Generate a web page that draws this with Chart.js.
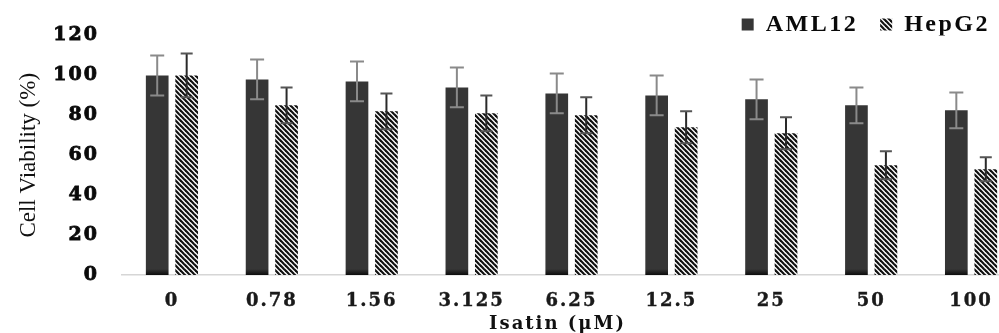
<!DOCTYPE html>
<html><head><meta charset="utf-8">
<style>html,body{margin:0;padding:0;overflow:hidden;background:#fff;} #wrap{width:1021px;height:333px;}</style>
<script src="https://cdn.jsdelivr.net/npm/chart.js@4.4.1/dist/chart.umd.min.js"></script>
</head><body><div id="wrap"><canvas id="c" width="1021" height="333"></canvas></div>
<script>
const categories = ['0', '0.78', '1.56', '3.125', '6.25', '12.5', '25', '50', '100'];
const seriesNames = ['AML12', 'HepG2'];
const aml12Values = [100, 98, 97, 94, 91, 90, 88, 85, 82.5];
const aml12Errors = [10, 10, 10, 10, 10, 10, 10, 9, 9];
const hepg2Values = [100, 85, 82, 81, 80, 74, 71, 55, 53];
const hepg2Errors = [11, 9, 9, 9, 9, 8, 8, 7, 6];
const yTicks = [0, 20, 40, 60, 80, 100, 120];
const xTitle = 'Isatin (μM)';
const yTitle = 'Cell Viability (%)';

const canvas = document.getElementById('c');
const ctx0 = canvas.getContext('2d');

function makeHatch() {
  const s = 5;
  const c = document.createElement('canvas');
  c.width = s; c.height = s;
  const g = c.getContext('2d');
  g.fillStyle = '#fff'; g.fillRect(0, 0, s, s);
  g.strokeStyle = '#111'; g.lineWidth = 2.2;
  for (let k = -1; k <= 1; k++) {
    g.beginPath(); g.moveTo(k * s - 1, -1); g.lineTo(k * s + s + 1, s + 1); g.stroke();
  }
  return ctx0.createPattern(c, 'repeat');
}
const hatch = makeHatch();

function amlFill(context) {
  const ca = context.chart.chartArea;
  if (!ca) return '#363636';
  const g = context.chart.ctx.createLinearGradient(0, ca.bottom - 6, 0, ca.bottom);
  g.addColorStop(0, '#363636');
  g.addColorStop(1, '#0c0c0c');
  return g;
}

const errorSets = [
  {errors: aml12Errors, stem: '#8a8a8a', cap: '#8a8a8a', half: 7},
  {errors: hepg2Errors, stem: '#2a2a2a', cap: '#555555', half: 6}
];

function withSpacing(obj, name, spacing, extra) {
  const o = obj[name].bind(obj);
  obj[name] = function (...args) {
    const c = obj.ctx;
    c.save();
    c.letterSpacing = spacing;
    if (extra) extra(c);
    const r = o(...args);
    c.restore();
    return r;
  };
}

const tweak = {
  id: 'tweak',
  beforeLayout(chart) {
    chart.ctx.letterSpacing = '2px';
    const lg = chart.legend;
    if (lg && !lg._wrapped) {
      lg._wrapped = true;
      withSpacing(lg, 'fit', '2.5px');
      withSpacing(lg, 'draw', '2.5px');
    }
  },
  afterLayout(chart) {
    const lg = chart.legend;
    if (lg) { lg.top = -9.5; lg.right = 1012; }
    const ys = chart.scales.y, xs = chart.scales.x;
    if (!ys._wrapped) {
      ys._wrapped = true;
      withSpacing(ys, 'drawTitle', '0px');
    }
    if (!xs._wrapped) {
      xs._wrapped = true;
      withSpacing(xs, 'drawTitle', '2px', c => c.translate(-14, 0));
    }
  },
  beforeDraw(chart) { chart.ctx.letterSpacing = '2px'; },
  afterDatasetsDraw(chart) {
    const c = chart.ctx, y = chart.scales.y;
    c.save();
    chart.data.datasets.forEach((ds, i) => {
      const meta = chart.getDatasetMeta(i);
      const es = errorSets[i];
      meta.data.forEach((el, j) => {
        const v = ds.data[j], e = es.errors[j];
        const yt = y.getPixelForValue(v + e), yb = y.getPixelForValue(v - e);
        const x = el.x;
        c.lineWidth = 2;
        c.strokeStyle = es.stem;
        c.beginPath(); c.moveTo(x, yt); c.lineTo(x, yb); c.stroke();
        c.strokeStyle = es.cap;
        c.beginPath();
        c.moveTo(x - es.half, yt); c.lineTo(x + es.half, yt);
        c.moveTo(x - es.half, yb); c.lineTo(x + es.half, yb);
        c.stroke();
      });
    });
    c.restore();
  }
};

new Chart(canvas, {
  type: 'bar',
  data: {
    labels: categories,
    datasets: [
      {label: seriesNames[0], data: aml12Values, backgroundColor: amlFill, borderWidth: 0,
       categoryPercentage: 0.59, barPercentage: 0.77},
      {label: seriesNames[1], data: hepg2Values, backgroundColor: hatch, borderWidth: 0,
       categoryPercentage: 0.59, barPercentage: 0.77}
    ]
  },
  options: {
    responsive: false,
    animation: false,
    devicePixelRatio: 1,
    layout: {padding: 0},
    plugins: {
      legend: {
        display: true,
        position: 'top',
        align: 'end',
        maxHeight: 35.5,
        labels: {
          boxWidth: 12, boxHeight: 12, padding: 22, color: '#0a0a0a',
          font: {family: 'Liberation Serif', size: 24, weight: 'bold'}
        }
      },
      tooltip: {enabled: false}
    },
    scales: {
      x: {
        offset: true,
        grid: {display: false, drawTicks: false},
        border: {display: true, color: '#d6d6d6', width: 1.5},
        ticks: {color: '#1a1a1a', padding: 16, maxRotation: 0, autoSkip: false,
                textStrokeColor: '#1a1a1a', textStrokeWidth: 0.4,
                font: {family: 'DejaVu Serif', size: 18, weight: 'bold'}},
        title: {display: true, text: xTitle, color: '#111', padding: {top: 0, bottom: 0},
                font: {family: 'DejaVu Serif', size: 18, weight: 'bold', lineHeight: 1}},
        afterFit: s => { s.height = 58; }
      },
      y: {
        min: 0, max: 120,
        grid: {display: false, drawTicks: false},
        border: {display: false},
        afterBuildTicks: s => { s.ticks = yTicks.map(v => ({value: v})); },
        ticks: {color: '#0a0a0a', padding: 23,
                textStrokeColor: '#0a0a0a', textStrokeWidth: 0.8,
                font: {family: 'DejaVu Serif', size: 19, weight: 'bold'}},
        title: {display: true, text: yTitle, color: '#111', padding: {top: 15, bottom: 0},
                font: {family: 'Liberation Serif', size: 23, weight: 'normal', lineHeight: 1.2}},
        afterFit: s => { s.width = 122; }
      }
    }
  },
  plugins: [tweak]
});
</script>
</body></html>
